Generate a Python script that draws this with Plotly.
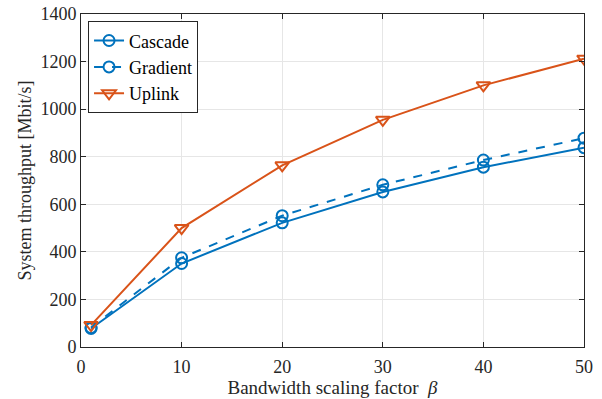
import plotly.graph_objects as go

beta = [1, 10, 20, 30, 40, 50]
cascade = [78, 351, 522, 652, 756, 838]
gradient = [82, 375, 552, 682, 786, 878]
uplink = [92, 500, 764, 955, 1100, 1212]

x_ticks = [0, 10, 20, 30, 40, 50]
y_ticks = [0, 200, 400, 600, 800, 1000, 1200, 1400]

BLUE = "#0072BD"
ORANGE = "#D95319"
FONT = "Liberation Serif, Times New Roman, serif"

fig = go.Figure()
fig.add_trace(go.Scatter(
    x=beta, y=cascade, name="Cascade", mode="lines+markers",
    line=dict(color=BLUE, width=2),
    marker=dict(symbol="circle-open", size=11, color=BLUE, line=dict(width=2)),
))
fig.add_trace(go.Scatter(
    x=beta, y=gradient, name="Gradient", mode="lines+markers",
    line=dict(color=BLUE, width=2, dash="dash"),
    marker=dict(symbol="circle-open", size=11, color=BLUE, line=dict(width=2)),
))
fig.add_trace(go.Scatter(
    x=beta, y=uplink, name="Uplink", mode="lines+markers",
    line=dict(color=ORANGE, width=2),
    marker=dict(symbol="triangle-down-open", size=12, color=ORANGE, line=dict(width=2)),
))

axis_common = dict(
    showline=True, linecolor="#262626", linewidth=1, mirror="ticks",
    ticks="inside", ticklen=5, tickcolor="#262626",
    showgrid=True, gridcolor="#E6E6E6", gridwidth=1,
    zeroline=False, automargin=False,
    tickfont=dict(family=FONT, size=18, color="#262626"),
)

fig.update_xaxes(
    range=[0, 50], tickvals=x_ticks, ticklabelstandoff=3,
    title=dict(text="Bandwidth scaling factor  <i>β</i>", font=dict(family=FONT, size=19, color="#262626"), standoff=0),
    **axis_common,
)
fig.update_yaxes(
    range=[0, 1400], tickvals=y_ticks,
    title=dict(text="System throughput [Mbit/s]", font=dict(family=FONT, size=18, color="#262626"), standoff=4),
    **axis_common,
)

fig.update_layout(
    width=602, height=399,
    margin=dict(l=81, r=18, t=14, b=52),
    plot_bgcolor="white", paper_bgcolor="white",
    font=dict(family=FONT, size=18, color="#262626"),
    legend=dict(
        x=0.014, y=0.978, xanchor="left", yanchor="top",
        bgcolor="white", bordercolor="#262626", borderwidth=1,
        font=dict(family=FONT, size=18, color="black"),
        tracegroupgap=0, itemwidth=30,
    ),
)

fig.write_html("out.html", post_script="document.body.style.margin='0';",
               config={"displayModeBar": False})
